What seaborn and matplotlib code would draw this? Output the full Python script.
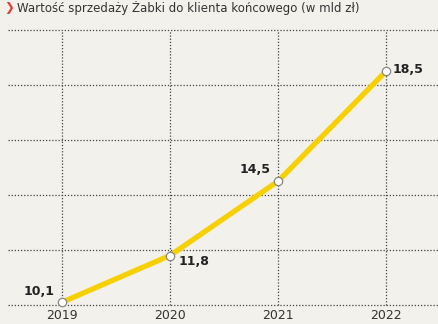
import matplotlib
matplotlib.use("Agg")
import matplotlib.pyplot as plt
import pandas as pd
import seaborn as sns

years = [2019, 2020, 2021, 2022]
sales = [10.1, 11.8, 14.5, 18.5]
labels = ["10,1", "11,8", "14,5", "18,5"]
title = "Wartość sprzedaży Żabki do klienta końcowego (w mld zł)"

BG = "#f3f1ec"
YELLOW = "#f7d000"

sns.set_theme(style="white")
plt.rcParams["font.family"] = ["DejaVu Sans"]

df = pd.DataFrame({"year": years, "sales": sales})

fig = plt.figure(figsize=(4.38, 3.24), dpi=100, facecolor=BG)
ax = fig.add_axes([8 / 438, 19 / 324, 432 / 438, 275 / 324])
ax.set_facecolor(BG)

sns.lineplot(data=df, x="year", y="sales", ax=ax, color=YELLOW, linewidth=3.8,
             marker="o", markersize=6, markerfacecolor="white",
             markeredgecolor="#888888", markeredgewidth=0.9, clip_on=False, zorder=5)

ax.set_xlim(2018.5, 2022.5)
ax.set_ylim(10, 20)
ax.set_xticks(years)
ax.set_xticklabels([str(y) for y in years])
ax.set_yticks([10, 12, 14, 16, 18, 20])
ax.set_yticklabels([])
ax.tick_params(axis="both", length=0)
ax.tick_params(axis="x", pad=3, labelsize=9, labelcolor="#333333")
ax.set_xlabel("")
ax.set_ylabel("")
for s in ax.spines.values():
    s.set_visible(False)
ax.grid(True, linestyle=(0, (1, 1.5)), color="#444444", linewidth=0.9)
ax.set_axisbelow(True)
# keep the edge gridlines fully drawn
for gl in ax.get_ygridlines() + ax.get_xgridlines():
    gl.set_clip_on(False)

offsets = [(-5, 3, "right", "bottom"), (6, -4, "left", "center"),
           (-5, 4, "right", "bottom"), (5, 1, "left", "center")]
for x, y, t, (dx, dy, ha, va) in zip(years, sales, labels, offsets):
    ax.annotate(t, (x, y), xytext=(dx, dy), textcoords="offset points",
                ha=ha, va=va, fontsize=9, fontweight="bold", color="#222222",
                zorder=6, annotation_clip=False)

fig.text(4 / 438, 1 - 1 / 324, "❯", color="#e03a2f", fontsize=8.5, fontweight="bold",
         ha="left", va="top")
fig.text(17 / 438, 1 - 1 / 324, title, color="#333333", fontsize=8.5,
         ha="left", va="top")

fig.savefig("out.png", dpi=100, facecolor=BG)
